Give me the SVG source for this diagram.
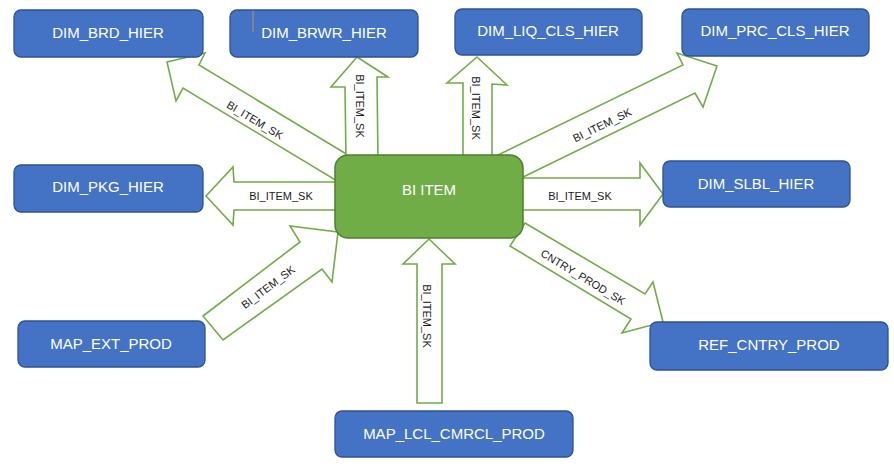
<svg xmlns="http://www.w3.org/2000/svg" width="894" height="467" viewBox="0 0 894 467">
<style>
.node rect{fill:#4472c4;stroke:#2f528f;stroke-width:1.3}
.node text{fill:#fff;font-family:"Liberation Sans",Arial,sans-serif;font-size:15px;text-anchor:middle}
.arr polygon{fill:#fff;stroke:#70ad47;stroke-width:1.6;stroke-linejoin:miter}
.lbl{fill:#1a1a1a;font-family:"Liberation Sans",Arial,sans-serif;font-size:11px;text-anchor:middle;dominant-baseline:central}
</style>
<rect width="894" height="467" fill="#fff"/>
<g id="connectors" class="arr">
<polygon points="167,62 205,53 199,65 353,158 337,181 183,88 176,101"/>
<polygon points="357,57 388,77 377,77 378,160 346,160 345,87 331,87"/>
<polygon points="477,57 507,85 492,84 492,160 463,160 463,83 447,83"/>
<polygon points="717,66 677,53 683,65 494,157 515,181 695,93 703,107"/>
<polygon points="206,196 233,167 234,182 340,182 340,210 234,210 233,225"/>
<polygon points="663,194 640,163 640,178 518,178 518,210 640,210 640,225"/>
<polygon points="338,232 290,226 300,242 203,316 223,340 322,269 332,282"/>
<polygon points="429,239 455,264 442,264 442,403 417,403 417,264 403,264"/>
<polygon points="525,223 645,294 653,282 663,322 622,333 631,319 510,246"/>
<text class="lbl" transform="translate(255,120) rotate(31)">BI_ITEM_SK</text>
<text class="lbl" transform="translate(360,106) rotate(90)">BI_ITEM_SK</text>
<text class="lbl" transform="translate(476,108) rotate(90)">BI_ITEM_SK</text>
<text class="lbl" transform="translate(602,125) rotate(-26)">BI_ITEM_SK</text>
<text class="lbl" x="281" y="196">BI_ITEM_SK</text>
<text class="lbl" x="580" y="196">BI_ITEM_SK</text>
<text class="lbl" transform="translate(268,287) rotate(-37)">BI_ITEM_SK</text>
<text class="lbl" transform="translate(427,316) rotate(90)">BI_ITEM_SK</text>
<text class="lbl" transform="translate(583,277) rotate(31)">CNTRY_PROD_SK</text>
</g>
<g id="bi_item">
<rect x="335" y="155" width="188" height="83" rx="13" fill="#70ad47" stroke="#507e32" stroke-width="1.5"/>
<text x="429" y="195" fill="#fff" font-family="Liberation Sans, Arial, sans-serif" font-size="15" text-anchor="middle">BI ITEM</text>
</g>
<g id="dim_brd_hier" class="node"><rect x="14" y="10" width="189" height="47" rx="7"/><text x="108" y="38">DIM_BRD_HIER</text></g>
<g id="dim_brwr_hier" class="node"><rect x="230" y="10" width="188" height="47" rx="7"/><text x="324" y="38">DIM_BRWR_HIER</text></g>
<line x1="253" y1="11" x2="253" y2="32" stroke="#c09060" stroke-width="1"/>
<g id="dim_liq_cls_hier" class="node"><rect x="455" y="9" width="187" height="46" rx="7"/><text x="548" y="36">DIM_LIQ_CLS_HIER</text></g>
<g id="dim_prc_cls_hier" class="node"><rect x="682" y="9" width="187" height="47" rx="7"/><text x="775" y="36">DIM_PRC_CLS_HIER</text></g>
<g id="dim_pkg_hier" class="node"><rect x="14" y="165" width="189" height="47" rx="7"/><text x="108" y="192">DIM_PKG_HIER</text></g>
<g id="dim_slbl_hier" class="node"><rect x="663" y="161" width="187" height="46" rx="7"/><text x="756" y="189">DIM_SLBL_HIER</text></g>
<g id="map_ext_prod" class="node"><rect x="18" y="321" width="187" height="46" rx="7"/><text x="111" y="349">MAP_EXT_PROD</text></g>
<g id="ref_cntry_prod" class="node"><rect x="650" y="322" width="238" height="48" rx="7"/><text x="769" y="350">REF_CNTRY_PROD</text></g>
<g id="map_lcl_cmrcl_prod" class="node"><rect x="335" y="411" width="238" height="46" rx="7"/><text x="454" y="439">MAP_LCL_CMRCL_PROD</text></g>
</svg>
